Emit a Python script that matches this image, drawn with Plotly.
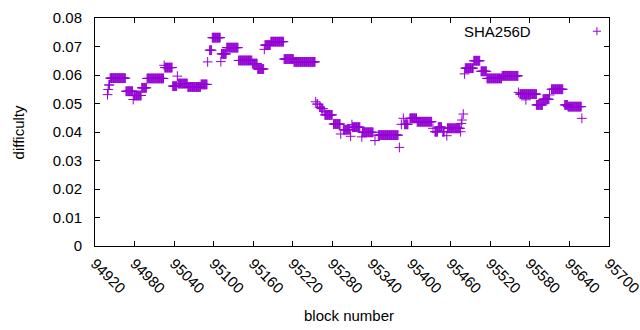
import plotly.graph_objects as go

# Runs of constant difficulty: first block, last block, difficulty
run_start = [94939, 94940, 94941, 94943, 94967, 94978, 94979, 94991, 94999, 95025,
             95026, 95038, 95045, 95046, 95061, 95081, 95091, 95094, 95098, 95111,
             95112, 95120, 95138, 95159, 95167, 95177, 95178, 95187, 95207, 95222,
             95255, 95257, 95261, 95264, 95268, 95269, 95282, 95293, 95297, 95308,
             95310, 95311, 95325, 95326, 95345, 95350, 95382, 95385, 95388, 95390,
             95398, 95409, 95433, 95436, 95441, 95448, 95454, 95455, 95475, 95476,
             95477, 95479, 95481, 95482, 95495, 95506, 95515, 95538, 95563, 95565,
             95574, 95590, 95600, 95610, 95613, 95633, 95638, 95659]
run_end = [94939, 94940, 94942, 94966, 94977, 94978, 94990, 94998, 95024, 95025,
           95037, 95044, 95045, 95060, 95080, 95090, 95091, 95097, 95110, 95111,
           95119, 95137, 95158, 95166, 95176, 95177, 95186, 95206, 95221, 95254,
           95255, 95258, 95262, 95266, 95268, 95280, 95292, 95293, 95307, 95308,
           95310, 95322, 95325, 95342, 95345, 95380, 95382, 95385, 95388, 95395,
           95408, 95431, 95433, 95440, 95446, 95450, 95454, 95474, 95475, 95476,
           95477, 95479, 95481, 95494, 95504, 95514, 95537, 95562, 95563, 95590,
           95574, 95599, 95609, 95610, 95630, 95637, 95658, 95659]
run_value = [0.0531, 0.0549, 0.0565, 0.0589, 0.0543, 0.0514, 0.0528, 0.0555, 0.0588, 0.0634,
             0.0626, 0.0561, 0.0596, 0.0570, 0.0558, 0.0567, 0.0646, 0.0687, 0.0731, 0.0647,
             0.0674, 0.0696, 0.0651, 0.0640, 0.0621, 0.0690, 0.0705, 0.0717, 0.0656, 0.0646,
             0.0506, 0.0498, 0.0487, 0.0482, 0.0473, 0.0460, 0.0428, 0.0393, 0.0408, 0.0385,
             0.0426, 0.0417, 0.0383, 0.0399, 0.0370, 0.0389, 0.0346, 0.0427, 0.0448, 0.0427,
             0.0448, 0.0436, 0.0413, 0.0401, 0.0417, 0.0401, 0.0387, 0.0413, 0.0401, 0.0430,
             0.0442, 0.0463, 0.0604, 0.0624, 0.0650, 0.0613, 0.0588, 0.0597, 0.0539, 0.0533,
             0.0513, 0.0495, 0.0515, 0.0530, 0.0550, 0.0495, 0.0489, 0.0448]

x_tick_values = [94920, 94980, 95040, 95100, 95160, 95220, 95280, 95340, 95400,
                 95460, 95520, 95580, 95640, 95700]
x_tick_labels = [str(v) for v in x_tick_values]
y_tick_values = [0, 0.01, 0.02, 0.03, 0.04, 0.05, 0.06, 0.07, 0.08]
y_tick_labels = ["0", "0.01", "0.02", "0.03", "0.04", "0.05", "0.06", "0.07", "0.08"]

blocks, diffs = [], []
for s, e, v in zip(run_start, run_end, run_value):
    for b in range(s, e + 1):
        blocks.append(b)
        diffs.append(v)

color = "#9400D3"
font = "Liberation Sans, Arial, sans-serif"
fsize = 15

fig = go.Figure()
fig.add_trace(go.Scatter(
    x=blocks, y=diffs, mode="markers", name="SHA256D", showlegend=False,
    marker=dict(symbol="cross-thin", size=7, color=color,
                line=dict(width=1, color=color)),
))

axis_common = dict(showline=True, linecolor="black", linewidth=1, mirror="ticks",
                   ticks="inside", ticklen=5, tickcolor="black", showgrid=False,
                   zeroline=False, automargin=False, ticklabeloverflow="allow",
                   tickfont=dict(family=font, size=fsize, color="black"))

fig.update_xaxes(range=[94920, 95700.2], tickvals=x_tick_values, ticktext=x_tick_labels,
                 tickangle=45, ticklabelstandoff=2, **axis_common)
fig.update_yaxes(range=[0, 0.08], tickvals=y_tick_values, ticktext=y_tick_labels,
                 ticklabelstandoff=9, **axis_common)

fig.update_layout(
    template="none",
    width=640, height=330,
    margin=dict(l=95, r=31, t=18, b=84),
    plot_bgcolor="white", paper_bgcolor="white",
    font=dict(family=font, size=fsize, color="black"),
    annotations=[
        dict(text="block number", xref="paper", yref="paper", x=0.494, y=-0.305,
             showarrow=False, xanchor="center", yanchor="middle",
             font=dict(family=font, size=fsize)),
        dict(text="difficulty", xref="paper", yref="paper", x=-0.149, y=0.5,
             showarrow=False, textangle=-90, xanchor="center", yanchor="middle",
             font=dict(family=font, size=fsize)),
        dict(text="SHA256D", xref="paper", yref="paper", x=0.853, y=0.942,
             showarrow=False, xanchor="right", yanchor="middle",
             font=dict(family=font, size=fsize)),
    ],
    shapes=[
        dict(type="line", xref="paper", yref="paper", x0=0.9685, x1=0.9845,
             y0=0.942, y1=0.942, line=dict(color=color, width=1)),
        dict(type="line", xref="paper", yref="paper", x0=0.9765, x1=0.9765,
             y0=0.924, y1=0.960, line=dict(color=color, width=1)),
    ],
)

fig.write_html("out.html", config={"displayModeBar": False},
               post_script="document.body.style.margin='0px';document.body.style.overflow='hidden';")
